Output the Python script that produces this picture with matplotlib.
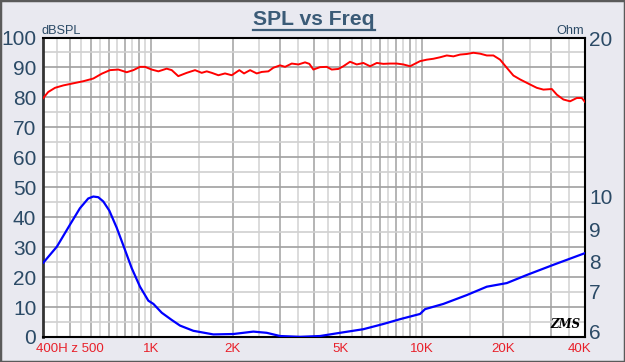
import numpy as np
import matplotlib
matplotlib.use("Agg")
import matplotlib.pyplot as plt
from matplotlib.lines import Line2D
from matplotlib.patches import Rectangle
import matplotlib.transforms as mtransforms

plt.rcParams['font.family'] = ['Liberation Sans', 'DejaVu Sans']

# ---------------- data ----------------
spl_freq = [400, 417, 442, 474, 516, 562, 612, 657, 705, 757, 813, 860, 910, 950, 1005, 1064,
            1142, 1192, 1260, 1354, 1453, 1538, 1605, 1675, 1772, 1875, 1985, 2118, 2204, 2320,
            2455, 2562, 2710, 2828, 2993, 3124, 3306, 3498, 3702, 3840, 3973, 4204, 4451, 4645,
            4915, 5127, 5428, 5747, 6077, 6435, 6813, 7204, 7627, 8073, 8541, 9041, 9841, 10420,
            11020, 11670, 12350, 13070, 13830, 14640, 15490, 16400, 17360, 18360, 19430,
            20570, 21760, 23040, 25090, 26550, 28090, 30170, 31490, 33290, 35240, 37310,
            38910, 40000]
spl_db = [79.8, 81.8, 83.2, 84.0, 84.7, 85.4, 86.3, 87.9, 89.1, 89.3, 88.4, 89.1, 90.2, 90.2,
          89.3, 88.7, 89.6, 89.1, 87.1, 88.2, 89.1, 88.2, 88.7, 88.2, 87.4, 88.0, 87.4, 89.1,
          88.0, 89.1, 88.0, 88.5, 88.7, 89.9, 90.7, 90.2, 91.3, 91.0, 91.7, 91.2, 89.3, 90.1,
          90.2, 89.3, 89.5, 90.4, 91.9, 91.0, 91.5, 90.4, 91.5, 91.2, 91.3, 91.3, 91.0, 90.4,
          92.1, 92.6, 92.9, 93.4, 94.0, 93.7, 94.3, 94.5, 94.9, 94.6, 94.0, 94.0, 92.6, 89.9,
          87.3, 86.0, 84.3, 83.2, 82.6, 82.8, 80.9, 79.3, 78.7, 79.8, 79.8, 78.5]

imp_freq = [400, 449, 502, 546, 586, 612, 638, 666, 701, 747, 801, 848, 910, 977, 1020, 1095,
            1192, 1279, 1432, 1698, 2012, 2386, 2673, 2993, 3549, 4204, 4985, 6077, 7204, 8304,
            9841, 10268, 12000, 14640, 17360, 20570, 24380, 30570, 40000]
imp_ohm = [7.96, 8.46, 9.14, 9.64, 9.94, 10.0, 9.98, 9.85, 9.57, 9.04, 8.36, 7.78, 7.16, 6.77,
           6.69, 6.47, 6.29, 6.15, 6.02, 5.93, 5.94, 6.00, 5.97, 5.89, 5.87, 5.89, 5.97, 6.06,
           6.19, 6.31, 6.44, 6.56, 6.69, 6.91, 7.16, 7.28, 7.55, 7.89, 8.26]

db_ticks = [0, 10, 20, 30, 40, 50, 60, 70, 80, 90, 100]
ohm_ticks = [6, 7, 8, 9, 10, 20]
ohm_tick_pos = [1.8, 15.2, 25.2, 36.0, 46.9, 99.6]   # where the ohm labels sit on the dB scale
freq_ticks = [500, 1000, 2000, 5000, 10000, 20000, 40000]
freq_labels = ['400H z 500', '1K', '2K', '5K', '10K', '20K', '40K']

# grid positions
vgrid_major = [500, 600, 700, 800, 900, 1000, 2000, 3000, 4000, 5000, 6000, 7000, 8000,
               9000, 10000, 20000, 30000]
vgrid_minor = [450, 550, 650, 750, 850, 950, 1500, 2500, 3500, 4500, 5500, 6500, 7500,
               8500, 9500, 15000, 25000, 35000]

# ---------------- figure ----------------
fig = plt.figure(figsize=(6.25, 3.62), dpi=100)
fig.patch.set_facecolor('#e9e9f0')
fig.patches.append(Rectangle((0, 0), 1, 1, transform=fig.transFigure, fill=False,
                             edgecolor='#5a5a5a', linewidth=2.5, zorder=10))

ax = fig.add_axes([43.3 / 625, 1 - 337 / 362, (585 - 43.3) / 625, (337 - 37.5) / 362])
ax.set_facecolor('white')
ax.set_xscale('log')
ax.set_xlim(400, 40000)
ax.set_ylim(0, 100)

for v in vgrid_minor:
    ax.axvline(v, color='#d6d6d6', lw=1.2, zorder=1)
for v in vgrid_major:
    ax.axvline(v, color='#a8a8a8', lw=1.2, zorder=1)
for h in range(5, 100, 10):
    ax.axhline(h, color='#d0d0d0', lw=1.2, zorder=1)
for h in range(10, 100, 10):
    ax.axhline(h, color='#a0a0a0', lw=1.2, zorder=1)

ax.plot(spl_freq, spl_db, color='#ff0000', lw=1.4, zorder=3)

# right axis (ohm) with its own non-uniform scale
ohm_cal = [0] + ohm_ticks + [200]
pos_cal = [ohm_tick_pos[0] - 6 * 13.4] + ohm_tick_pos + [ohm_tick_pos[-1] + 180 * 5.27]


def fwd(v):
    return np.interp(v, ohm_cal, pos_cal)


def inv(p):
    return np.interp(p, pos_cal, ohm_cal)


ax2 = ax.twinx()
ax2.set_yscale('function', functions=(fwd, inv))
ax2.set_ylim(inv(0), inv(100))
ax2.plot(imp_freq, imp_ohm, color='#0000ff', lw=1.6, zorder=3, solid_joinstyle='round')
ax2.set_yticks(ohm_ticks)
ax2.set_yticklabels([str(t) for t in ohm_ticks])
ax2.yaxis.set_minor_locator(matplotlib.ticker.NullLocator())
ax2.tick_params(axis='y', length=0, pad=3, labelsize=15, labelcolor='#2b4a66')

ax.set_yticks(db_ticks)
ax.set_yticklabels([str(t) for t in db_ticks])
ax.tick_params(axis='y', length=0, pad=5, labelsize=15, labelcolor='#2b4a66')
ax.set_xticks(freq_ticks)
ax.set_xticklabels(freq_labels)
ax.xaxis.set_minor_locator(matplotlib.ticker.NullLocator())
ax.tick_params(axis='x', length=0, pad=4, labelsize=9.5, labelcolor='#e8202a')
last = ax.get_xticklabels()[-1]
last.set_transform(last.get_transform() + mtransforms.ScaledTranslation(-6 / 100, 0, fig.dpi_scale_trans))

for s in ['top', 'right', 'bottom']:
    ax.spines[s].set_color('black')
    ax.spines[s].set_linewidth(1.5)
ax.spines['left'].set_color('#333333')
ax.spines['left'].set_linewidth(2)
for s in ax2.spines.values():
    s.set_visible(False)

# texts
fig.text(42 / 625, 1 - 34 / 362, 'dBSPL', fontsize=9.2, color='#2b4a66', ha='left', va='baseline')
fig.text(584 / 625, 1 - 34 / 362, 'Ohm', fontsize=9.2, color='#2b4a66', ha='right', va='baseline')
fig.text(314 / 625, 1 - 25 / 362, 'SPL vs Freq', fontsize=15.2, fontweight='bold',
         color='#3b5b77', ha='center', va='baseline')
fig.add_artist(Line2D([253 / 625, 375 / 625], [1 - 29.5 / 362, 1 - 29.5 / 362],
                      color='#3b5b77', lw=1.6, transform=fig.transFigure))
fig.text(565 / 625, 1 - 325 / 362, 'ZMS', fontsize=8.5, fontweight='bold', fontstyle='italic',
         family='DejaVu Serif', color='black', ha='center', va='center')

fig.savefig('out.png', dpi=100, facecolor=fig.get_facecolor())
